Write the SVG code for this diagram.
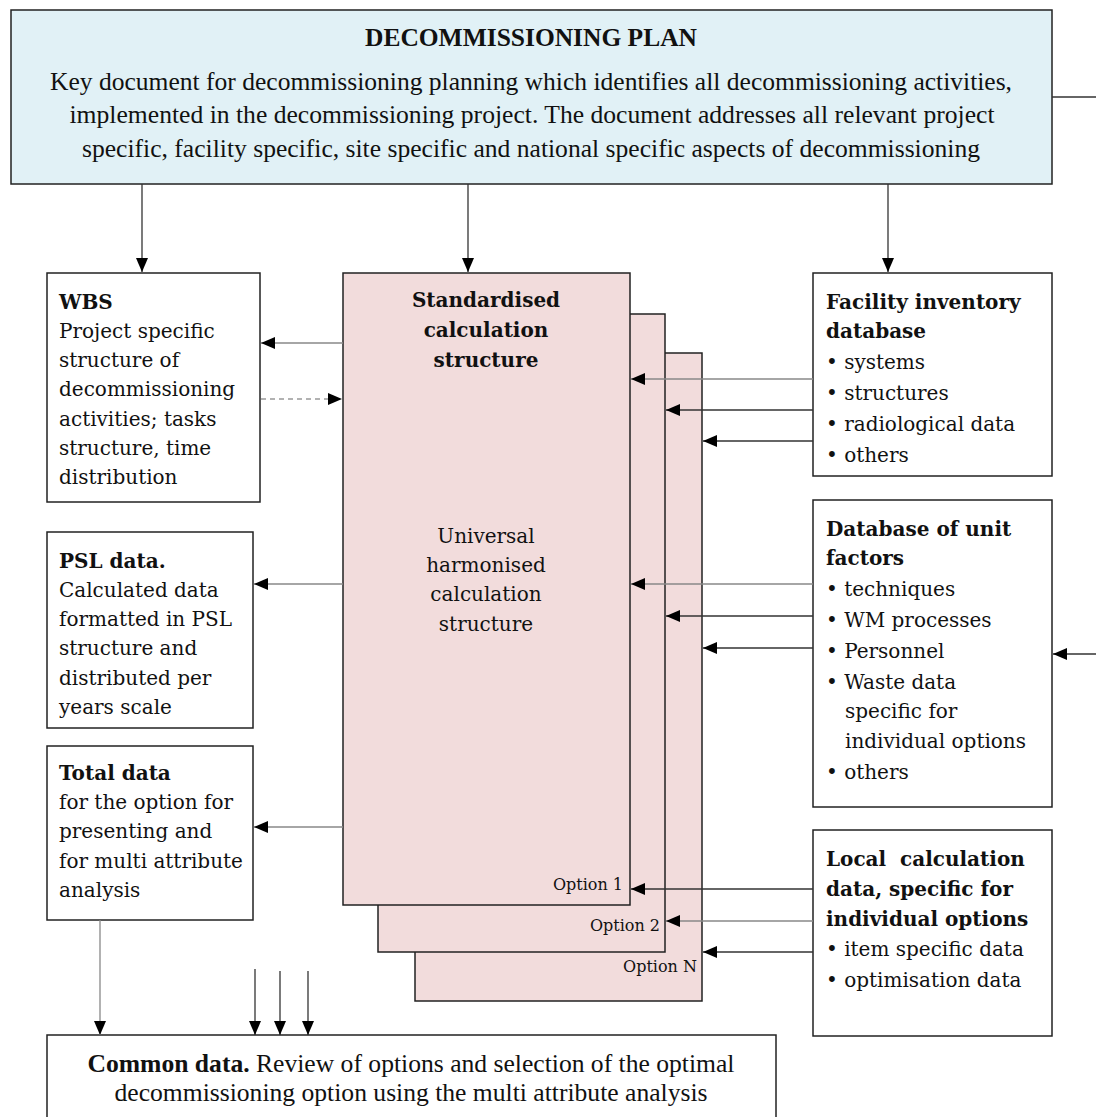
<svg xmlns="http://www.w3.org/2000/svg" width="1096" height="1117" viewBox="0 0 1096 1117">
  <style>
    .box { fill: #ffffff; stroke: #222; stroke-width: 1.5; }
    .plan { fill: #e1f1f6; stroke: #222; stroke-width: 1.5; }
    .card { fill: #f2dcdc; stroke: #222; stroke-width: 1.5; }
    .t { font-family: "DejaVu Serif", "Liberation Serif", serif; font-size: 20px; fill: #111; }
    .tb { font-weight: bold; }
    .times { font-family: "Liberation Serif", "Times New Roman", serif; font-size: 25px; fill: #111; }
    .opt { font-family: "DejaVu Serif", "Liberation Serif", serif; font-size: 16px; fill: #111; text-anchor: end; }
    .c { text-anchor: middle; }
    .ln { stroke: #333; stroke-width: 1.3; fill: none; }
    .lg { stroke: #888; stroke-width: 1.3; fill: none; }
    .dash { stroke: #999; stroke-width: 1.5; stroke-dasharray: 5 4; fill: none; }
  </style>
  <defs>
    <marker id="ah" viewBox="0 0 14 12" refX="14" refY="6" markerWidth="14" markerHeight="12" markerUnits="userSpaceOnUse" orient="auto">
      <path d="M0,0 L14,6 L0,12 Z" fill="#000"/>
    </marker>
  </defs>

  <!-- Decommissioning plan -->
  <g id="plan">
    <rect class="plan" x="11" y="10" width="1041" height="174"/>
    <text class="times tb c" x="531" y="46" font-size="24" textLength="332" lengthAdjust="spacingAndGlyphs">DECOMMISSIONING PLAN</text>
    <text class="times c" x="531" y="90" textLength="962" lengthAdjust="spacingAndGlyphs">Key document for decommissioning planning which identifies all decommissioning activities,</text>
    <text class="times c" x="532" y="123" textLength="925" lengthAdjust="spacingAndGlyphs">implemented in the decommissioning project. The document addresses all relevant project</text>
    <text class="times c" x="531" y="157" textLength="898" lengthAdjust="spacingAndGlyphs">specific, facility specific, site specific and national specific aspects of decommissioning</text>
  </g>

  <!-- Stacked calculation structures (back to front) -->
  <g id="option-n">
    <rect class="card" x="415" y="353" width="287" height="648"/>
    <text class="opt" x="697" y="972">Option N</text>
  </g>
  <g id="option-2">
    <rect class="card" x="378" y="314" width="287" height="638"/>
    <text class="opt" x="660" y="931">Option 2</text>
  </g>
  <g id="option-1">
    <rect class="card" x="343" y="273" width="287" height="632"/>
    <text class="t tb c" x="486" y="307">Standardised</text>
    <text class="t tb c" x="486" y="337">calculation</text>
    <text class="t tb c" x="486" y="367">structure</text>
    <text class="t c" x="486" y="543">Universal</text>
    <text class="t c" x="486" y="572">harmonised</text>
    <text class="t c" x="486" y="601">calculation</text>
    <text class="t c" x="486" y="631">structure</text>
    <text class="opt" x="623" y="890">Option 1</text>
  </g>

  <!-- WBS -->
  <g id="wbs">
    <rect class="box" x="47" y="273" width="213" height="229"/>
    <text class="t tb" x="59" y="309">WBS</text>
    <text class="t" x="59" y="338">Project specific</text>
    <text class="t" x="59" y="367">structure of</text>
    <text class="t" x="59" y="396">decommissioning</text>
    <text class="t" x="59" y="426">activities; tasks</text>
    <text class="t" x="59" y="455">structure, time</text>
    <text class="t" x="59" y="484">distribution</text>
  </g>

  <!-- PSL data -->
  <g id="psl">
    <rect class="box" x="47" y="532" width="206" height="196"/>
    <text class="t tb" x="59" y="568">PSL data.</text>
    <text class="t" x="59" y="597">Calculated data</text>
    <text class="t" x="59" y="626">formatted in PSL</text>
    <text class="t" x="59" y="655">structure and</text>
    <text class="t" x="59" y="685">distributed per</text>
    <text class="t" x="59" y="714">years scale</text>
  </g>

  <!-- Total data -->
  <g id="total">
    <rect class="box" x="47" y="746" width="206" height="174"/>
    <text class="t tb" x="59" y="780">Total data</text>
    <text class="t" x="59" y="809">for the option for</text>
    <text class="t" x="59" y="838">presenting and</text>
    <text class="t" x="59" y="868">for multi attribute</text>
    <text class="t" x="59" y="897">analysis</text>
  </g>

  <!-- Facility inventory database -->
  <g id="facility">
    <rect class="box" x="813" y="273" width="239" height="203"/>
    <text class="t tb" x="826" y="309">Facility inventory</text>
    <text class="t tb" x="826" y="338">database</text>
    <text class="t" x="826" y="369">• systems</text>
    <text class="t" x="826" y="400">• structures</text>
    <text class="t" x="826" y="431">• radiological data</text>
    <text class="t" x="826" y="462">• others</text>
  </g>

  <!-- Database of unit factors -->
  <g id="unit-factors">
    <rect class="box" x="813" y="500" width="239" height="307"/>
    <text class="t tb" x="826" y="536">Database of unit</text>
    <text class="t tb" x="826" y="565">factors</text>
    <text class="t" x="826" y="596">• techniques</text>
    <text class="t" x="826" y="627">• WM processes</text>
    <text class="t" x="826" y="658">• Personnel</text>
    <text class="t" x="826" y="689">• Waste data</text>
    <text class="t" x="845" y="718">specific for</text>
    <text class="t" x="845" y="748">individual options</text>
    <text class="t" x="826" y="779">• others</text>
  </g>

  <!-- Local calculation data -->
  <g id="local">
    <rect class="box" x="813" y="830" width="239" height="206"/>
    <text class="t tb" x="826" y="866" xml:space="preserve">Local  calculation</text>
    <text class="t tb" x="826" y="896">data, specific for</text>
    <text class="t tb" x="826" y="926">individual options</text>
    <text class="t" x="826" y="956">• item specific data</text>
    <text class="t" x="826" y="987">• optimisation data</text>
  </g>

  <!-- Common data -->
  <g id="common">
    <rect class="box" x="47" y="1035" width="729" height="90"/>
    <text class="times c" x="411" y="1072" textLength="647" lengthAdjust="spacingAndGlyphs"><tspan class="tb">Common data.</tspan> Review of options and selection of the optimal</text>
    <text class="times c" x="411" y="1101" textLength="593" lengthAdjust="spacingAndGlyphs">decommissioning option using the multi attribute analysis</text>
  </g>

  <!-- Connectors -->
  <g id="connectors">
    <!-- plan down to the three columns -->
    <line class="ln" x1="142" y1="184" x2="142" y2="272" marker-end="url(#ah)"/>
    <line class="ln" x1="468" y1="184" x2="468" y2="272" marker-end="url(#ah)"/>
    <line class="ln" x1="888" y1="184" x2="888" y2="272" marker-end="url(#ah)"/>
    <!-- plan out to the right -->
    <line class="ln" x1="1052" y1="97" x2="1096" y2="97"/>
    <!-- calculation structure to WBS and back -->
    <line class="lg" x1="343" y1="343" x2="261" y2="343" marker-end="url(#ah)"/>
    <line class="dash" x1="261" y1="399" x2="342" y2="399" marker-end="url(#ah)"/>
    <!-- calculation structure to outputs -->
    <line class="lg" x1="343" y1="584" x2="254" y2="584" marker-end="url(#ah)"/>
    <line class="lg" x1="343" y1="827" x2="254" y2="827" marker-end="url(#ah)"/>
    <!-- facility inventory into each option -->
    <line class="lg" x1="813" y1="379" x2="631" y2="379" marker-end="url(#ah)"/>
    <line class="ln" x1="813" y1="410" x2="666" y2="410" marker-end="url(#ah)"/>
    <line class="ln" x1="813" y1="441" x2="703" y2="441" marker-end="url(#ah)"/>
    <!-- unit factors into each option -->
    <line class="lg" x1="813" y1="584" x2="631" y2="584" marker-end="url(#ah)"/>
    <line class="ln" x1="813" y1="616" x2="666" y2="616" marker-end="url(#ah)"/>
    <line class="ln" x1="813" y1="648" x2="703" y2="648" marker-end="url(#ah)"/>
    <!-- external input into unit factors -->
    <line class="ln" x1="1096" y1="654" x2="1053" y2="654" marker-end="url(#ah)"/>
    <!-- local data into each option -->
    <line class="ln" x1="813" y1="889" x2="631" y2="889" marker-end="url(#ah)"/>
    <line class="lg" x1="813" y1="921" x2="666" y2="921" marker-end="url(#ah)"/>
    <line class="ln" x1="813" y1="952" x2="703" y2="952" marker-end="url(#ah)"/>
    <!-- into common data -->
    <line class="lg" x1="100" y1="920" x2="100" y2="1035" marker-end="url(#ah)"/>
    <line class="ln" x1="255" y1="969" x2="255" y2="1035" marker-end="url(#ah)"/>
    <line class="ln" x1="280" y1="971" x2="280" y2="1035" marker-end="url(#ah)"/>
    <line class="ln" x1="308" y1="971" x2="308" y2="1035" marker-end="url(#ah)"/>
  </g>
</svg>
